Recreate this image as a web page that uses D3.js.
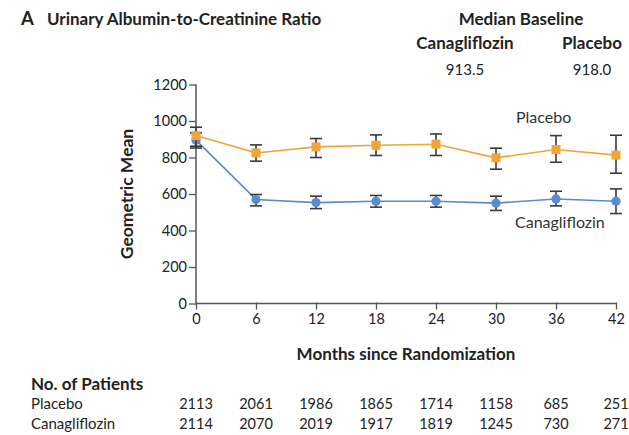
<!DOCTYPE html>
<html>
<head>
<meta charset="utf-8">
<script src="https://cdn.jsdelivr.net/npm/d3@7"></script>
<style>
  html, body { margin: 0; padding: 0; background: #fff; }
  svg { display: block; font-family: Lato, "Open Sans", sans-serif; }
</style>
</head>
<body>
<svg id="chart" width="629" height="435"></svg>
<script>
// Visit months
const months = [0, 6, 12, 18, 24, 30, 36, 42];

// Geometric mean UACR with 95% CI, by group
const placeboMean  = [920, 825, 858, 867, 873, 798, 844, 813];
const placeboLow   = [862, 780, 800, 811, 811, 736, 774, 714];
const placeboHigh  = [966, 869, 904, 924, 929, 851, 920, 922];
const canaMean     = [895, 570, 553, 560, 560, 550, 573, 560];
const canaLow      = [852, 535, 520, 528, 528, 510, 535, 493];
const canaHigh     = [935, 597, 588, 592, 592, 588, 615, 628];

// Axis ticks
const yTicks = [0, 200, 400, 600, 800, 1000, 1200];
const xTicks = months;

// Median baseline values
const baselineGroups = ["Canagliflozin", "Placebo"];
const baselineValues = ["913.5", "918.0"];

// Number of patients at risk
const riskGroups = ["Placebo", "Canagliflozin"];
const riskPlacebo = [2113, 2061, 1986, 1865, 1714, 1158, 685, 251];
const riskCana    = [2114, 2070, 2019, 1917, 1819, 1245, 730, 271];

const ORANGE = "#EFA537";
const BLUE = "#5A8AD0";
const INK = "#222";
const AXIS = "#555";
const BAR = "#3a3a3a";

const svg = d3.select("#chart");

const x = d3.scaleLinear().domain([0, 42]).range([196, 616]);
const y = d3.scaleLinear().domain([0, 1200]).range([303.5, 84.5]);

// Panel title
svg.append("text").attr("x", 21).attr("y", 25)
  .attr("font-size", 18.5).attr("font-weight", 700).attr("fill", INK).text("A");
svg.append("text").attr("x", 47).attr("y", 25)
  .attr("font-size", 17).attr("font-weight", 700).attr("fill", INK)
  .text("Urinary Albumin-to-Creatinine Ratio");

// Median baseline header
svg.append("text").attr("x", 521).attr("y", 25).attr("text-anchor", "middle")
  .attr("font-size", 17).attr("font-weight", 700).attr("fill", INK)
  .text("Median Baseline");
const baseX = [465, 592];
baselineGroups.forEach((g, i) => {
  svg.append("text").attr("x", baseX[i]).attr("y", 49).attr("text-anchor", "middle")
    .attr("font-size", 17).attr("font-weight", 700).attr("fill", INK).text(g);
  svg.append("text").attr("x", baseX[i]).attr("y", 75).attr("text-anchor", "middle")
    .attr("font-size", 15).attr("fill", INK).text(baselineValues[i]);
});

// Axes
const yAxis = svg.append("g").attr("transform", `translate(${x(0)},0)`)
  .call(d3.axisLeft(y).tickValues(yTicks).tickFormat(d3.format("d"))
    .tickSize(7).tickPadding(2));
const xAxis = svg.append("g").attr("transform", `translate(0,${y(0)})`)
  .call(d3.axisBottom(x).tickValues(xTicks).tickFormat(d3.format("d"))
    .tickSize(6).tickPadding(4));
[yAxis, xAxis].forEach(a => {
  a.select(".domain").attr("stroke", AXIS).attr("stroke-width", 1.5);
  a.selectAll(".tick line").attr("stroke", AXIS).attr("stroke-width", 1.3);
  a.selectAll(".tick text").attr("fill", INK).attr("font-size", 14.5)
    .attr("font-family", "Lato, 'Open Sans', sans-serif");
});
yAxis.select(".domain").attr("d", `M0,${y(1200)}V${y(0)}`);
xAxis.select(".domain").attr("d", `M${x(0)},0H${x(42)}`);
xAxis.selectAll(".tick line").attr("y1", -1);

// Axis titles
svg.append("text")
  .attr("transform", `translate(133,${(y(0) + y(1200)) / 2}) rotate(-90)`)
  .attr("text-anchor", "middle").attr("font-size", 17.5).attr("font-weight", 700)
  .attr("fill", INK).text("Geometric Mean");
svg.append("text").attr("x", (x(0) + x(42)) / 2).attr("y", 360).attr("text-anchor", "middle")
  .attr("font-size", 17).attr("font-weight", 700).attr("fill", INK)
  .text("Months since Randomization");

// Series (canagliflozin drawn first so placebo markers sit on top at baseline)
const series = [
  { name: "Canagliflozin", mean: canaMean, low: canaLow, high: canaHigh, color: BLUE, shape: "circle" },
  { name: "Placebo", mean: placeboMean, low: placeboLow, high: placeboHigh, color: ORANGE, shape: "square" }
];

const line = d3.line().x(d => x(d.m)).y(d => y(d.v));

series.forEach(s => {
  const pts = months.map((m, i) => ({ m, v: s.mean[i], lo: s.low[i], hi: s.high[i] }));
  const g = svg.append("g");
  g.append("path").datum(pts).attr("d", line)
    .attr("fill", "none").attr("stroke", s.color).attr("stroke-width", 1.6);
  const eb = g.selectAll(".eb").data(pts).join("g");
  eb.append("line").attr("x1", d => x(d.m)).attr("x2", d => x(d.m))
    .attr("y1", d => y(d.hi)).attr("y2", d => y(d.lo))
    .attr("stroke", BAR).attr("stroke-width", 1.6);
  [d => d.hi, d => d.lo].forEach(f => {
    eb.append("line").attr("x1", d => x(d.m) - 6).attr("x2", d => x(d.m) + 6)
      .attr("y1", d => y(f(d))).attr("y2", d => y(f(d)))
      .attr("stroke", BAR).attr("stroke-width", 1.6);
  });
  if (s.shape === "square") {
    g.selectAll(".mk").data(pts).join("rect")
      .attr("x", d => x(d.m) - 4.5).attr("y", d => y(d.v) - 4.5)
      .attr("width", 9).attr("height", 9).attr("fill", s.color);
  } else {
    g.selectAll(".mk").data(pts).join("circle")
      .attr("cx", d => x(d.m)).attr("cy", d => y(d.v)).attr("r", 4.6)
      .attr("fill", s.color);
  }
});

// Series labels
svg.append("text").attr("x", 516).attr("y", 123).attr("font-size", 16)
  .attr("fill", "#333").text("Placebo");
svg.append("text").attr("x", 515).attr("y", 228).attr("font-size", 16)
  .attr("fill", "#333").text("Canagliflozin");

// Number at risk table, columns aligned with the month ticks
svg.append("text").attr("x", 31).attr("y", 390).attr("font-size", 17)
  .attr("font-weight", 700).attr("fill", INK).text("No. of Patients");
const rows = [riskPlacebo, riskCana];
const rowY = [409, 429];
rows.forEach((vals, r) => {
  svg.append("text").attr("x", 31).attr("y", rowY[r]).attr("font-size", 15)
    .attr("fill", INK).text(riskGroups[r]);
  svg.selectAll(null).data(vals).join("text")
    .attr("x", (d, i) => x(months[i])).attr("y", rowY[r])
    .attr("text-anchor", "middle").attr("font-size", 14.5).attr("fill", INK)
    .text(d => d);
});
</script>
</body>
</html>
